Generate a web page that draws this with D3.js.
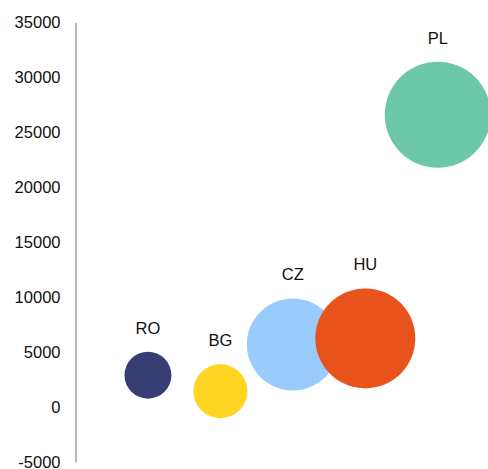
<!DOCTYPE html>
<html><head><meta charset="utf-8">
<script src="https://cdn.jsdelivr.net/npm/d3@7"></script>
<style>html,body{margin:0;padding:0;background:#fff;}svg{display:block;}</style>
</head><body>
<svg id="chart" width="488" height="469"></svg>
<script>
const countries = ["RO", "BG", "CZ", "HU", "PL"];
const xValues = [1, 2, 3, 4, 5];
const yValues = [2900, 1450, 5700, 6250, 26600];
const sizes = [55, 73, 212, 250, 281];
const colors = ["#383d74", "#ffd524", "#9acbfd", "#e8531b", "#6dc7a9"];
const yTicks = [-5000, 0, 5000, 10000, 15000, 20000, 25000, 30000, 35000];

const svg = d3.select("#chart");
const font = "'Liberation Sans', Arial, sans-serif";
const x = d3.scaleLinear().domain([0, 6]).range([75.5, 510.2]);
const y = d3.scaleLinear().domain([-5000, 35000]).range([462, 22.5]);
const r = d3.scaleSqrt().domain([0, 281]).range([0, 53]);

const yAxis = d3.axisLeft(y).tickValues(yTicks).tickSize(0).tickPadding(15).tickFormat(d => String(d));
const ga = svg.append("g").attr("transform", `translate(${x(0)},0)`).call(yAxis);
ga.select(".domain").attr("stroke", "#a0a0a0").attr("stroke-width", 1.5);
ga.selectAll("text").attr("font-family", font).attr("font-size", 16.5).attr("fill", "#111");

const data = countries.map((c, i) => ({c, x: xValues[i], y: yValues[i], s: sizes[i], col: colors[i]}));
svg.append("g").selectAll("circle").data(data).join("circle")
  .attr("cx", d => x(d.x)).attr("cy", d => y(d.y)).attr("r", d => r(d.s))
  .attr("fill", d => d.col);
svg.append("g").selectAll("text").data(data).join("text")
  .attr("x", d => x(d.x)).attr("y", d => y(d.y) - r(d.s) - 18)
  .attr("text-anchor", "middle").attr("font-family", font).attr("font-size", 16.5)
  .attr("fill", "#111").text(d => d.c);
</script>
</body></html>
